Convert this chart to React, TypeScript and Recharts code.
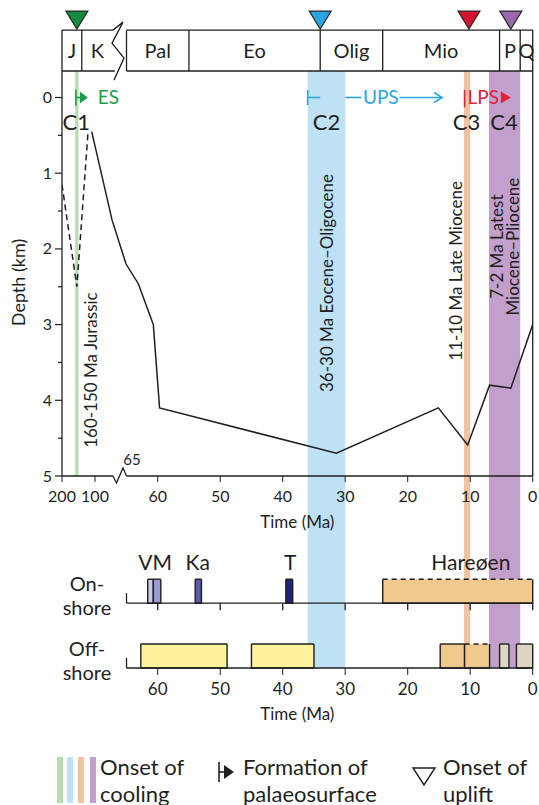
import React from 'react';
import {
  ComposedChart,
  Line,
  XAxis,
  YAxis,
  ReferenceArea,
  ReferenceLine,
  ReferenceDot,
} from 'recharts';

// burial history (age in Ma, depth in km)
const burialAge = [110, 81, 65.5, 63.1, 60.7, 59.7, 31.4, 15.1, 10.4, 6.9, 3.5, 0];
const burialDepth = [0.45, 1.62, 2.2, 2.46, 3.0, 4.1, 4.7, 4.1, 4.59, 3.8, 3.84, 3.0];
const altBurialAge = [200, 155, 121];
const altBurialDepth = [1.15, 2.5, 0.45];

// geological time scale
const periodName = ['J', 'K', 'Pal', 'Eo', 'Olig', 'Mio', 'P', 'Q'];
const periodStart = [200, 140, 65, 55, 34, 24, 5.3, 2];
const periodEnd = [140, 65, 55, 34, 24, 5.3, 2, 0];

// cooling events
const coolingName = ['C1', 'C2', 'C3', 'C4'];
const coolingFrom = [160, 36, 11, 7];
const coolingTo = [150, 30, 10, 2];
const coolingColor = ['#b9dbb1', '#bee1f6', '#f0c3a3', '#c3a0cc'];
const coolingText = [
  ['160-150 Ma Jurassic'],
  ['36-30 Ma Eocene–Oligocene'],
  ['11-10 Ma Late Miocene'],
  ['7-2 Ma Latest', 'Miocene–Pliocene'],
];

// onset of uplift
const upliftAge = [155, 34, 10.2, 3.5];
const upliftColor = ['#138a3c', '#29a5df', '#d3132f', '#9c68ac'];

// on-shore / off-shore records
const onshoreFrom = [61.6, 60.7, 54, 39.5, 24];
const onshoreTo = [60.7, 59.5, 53, 38.4, 0];
const onshoreColor = ['#cac9e9', '#9c99d3', '#5b59b4', '#1d2574', '#f0c98e'];
const onshoreDashed = [false, false, false, false, true];
const onshoreName = ['VM', 'Ka', 'T', 'Hareøen'];
const onshoreNameAge = [60.4, 53.6, 38.8, 9.9];

const offshoreFrom = [62.7, 45, 14.8, 10.9, 5.3, 2.6];
const offshoreTo = [48.9, 35, 10.9, 6.9, 3.8, 0];
const offshoreColor = ['#fdf39c', '#fdf39c', '#efc88d', '#efc88d', '#ddd6c2', '#ddd6c2'];
const offshoreDashed = [false, false, false, true, false, false];

const mainTicks = [200, 100, 60, 50, 40, 30, 20, 10, 0];
const lowerTicks = [60, 50, 40, 30, 20, 10, 0];
const depthTicks = [0, 0.5, 1, 1.5, 2, 2.5, 3, 3.5, 4, 4.5, 5];
const rowLabel = [['On-', 'shore'], ['Off-', 'shore']];

// broken time axis: 200-100 Ma squeezed, 100-65 Ma gap, 65-0 Ma linear
const toX = (t: number) => {
  if (t >= 100) return 95 - (t - 100) * 0.33;
  if (t >= 65) return 95 + (100 - t) * 0.9;
  return 532.7 - 6.25 * t;
};

const BOX_TOP = -0.89;
const PLOT_TOP = -0.35;
const ON_BASE = 2.7;
const OFF_BASE = 0;
const BAR_H = 1.0;
const rowMid = [ON_BASE + BAR_H / 2, OFF_BASE + BAR_H / 2];

const INK = '#1f1f1f';
const BLUE = '#2aa6de';
const RED = '#df213e';
const GREEN = '#1f9a4b';

const burialPts = burialAge.map((t, i) => ({ u: toX(t), d: burialDepth[i] }));
const altPts = altBurialAge.map((t, i) => ({ u: toX(t), d: altBurialDepth[i] }));
const onBaseline = [{ u: toX(65), y: ON_BASE }, { u: toX(0), y: ON_BASE }];
const offBaseline = [{ u: toX(65), y: OFF_BASE }, { u: toX(0), y: OFF_BASE }];

const fmtTick = (list: number[]) => (v: number) => {
  const i = list.findIndex((t) => Math.abs(toX(t) - v) < 0.01);
  return i >= 0 ? String(list[i]) : '';
};

type NoteOpts = { size?: number; color?: string; rotate?: boolean; anchor?: string; lh?: number };

function note(key: string, x: number, y: number, text: string | string[], o: NoteOpts = {}) {
  const lines = Array.isArray(text) ? text : [text];
  const size = o.size ?? 17;
  const lh = o.lh ?? 0.95;
  return (
    <ReferenceDot
      key={key}
      x={x}
      y={y}
      r={0}
      ifOverflow="visible"
      shape={(p: any) => {
        const cx = p.cx;
        const cy = p.cy;
        return (
          <text
            x={cx}
            y={cy}
            fontSize={size}
            fill={o.color ?? INK}
            textAnchor={o.anchor ?? 'middle'}
            transform={o.rotate ? `rotate(-90 ${cx} ${cy})` : undefined}
          >
            {lines.map((l, i) => (
              <tspan
                key={i}
                x={cx}
                dy={i === 0 ? `${(-(lines.length - 1) / 2) * lh + 0.35}em` : `${lh}em`}
              >
                {l}
              </tspan>
            ))}
          </text>
        );
      }}
    />
  );
}

function seg(key: string, x1: number, y1: number, x2: number, y2: number, stroke = INK, w = 1.3) {
  return (
    <ReferenceLine
      key={key}
      segment={[{ x: x1, y: y1 }, { x: x2, y: y2 }]}
      stroke={stroke}
      strokeWidth={w}
      ifOverflow="visible"
    />
  );
}

const boxShape = (fill: string, dashedTop: boolean) => (p: any) => {
  const { x, y, width, height } = p;
  return (
    <g>
      <rect x={x} y={y} width={width} height={height} fill={fill} />
      <path
        d={`M${x},${y} L${x},${y + height} L${x + width},${y + height} L${x + width},${y}`}
        fill="none"
        stroke={INK}
        strokeWidth={1.4}
      />
      <line
        x1={x}
        y1={y}
        x2={x + width}
        y2={y}
        stroke={INK}
        strokeWidth={1.4}
        strokeDasharray={dashedTop ? '5 4' : undefined}
      />
    </g>
  );
};

const DepthTick = (props: any) => {
  const { x, y, payload } = props;
  const major = Number.isInteger(payload.value);
  return (
    <g>
      <line x1={x - (major ? 7 : 4)} x2={x} y1={y} y2={y} stroke={INK} strokeWidth={1.2} />
      {major && (
        <text x={x - 10} y={y} dy="0.35em" textAnchor="end" fontSize={16} fill={INK}>
          {payload.value}
        </text>
      )}
    </g>
  );
};

const RowTick = (props: any) => {
  const { x, y, index } = props;
  const lines = rowLabel[index] || [];
  return (
    <text x={x + 25} y={y} textAnchor="middle" fontSize={20} fill={INK}>
      <tspan x={x + 25} dy="0">{lines[0]}</tspan>
      <tspan x={x + 25} dy="1.2em">{lines[1]}</tspan>
    </text>
  );
};

function MainChart() {
  return (
    <ComposedChart width={539} height={540} margin={{ top: 71, right: 6.3, bottom: 34, left: 2 }}>
      <XAxis
        type="number"
        dataKey="u"
        domain={[toX(200), toX(0)]}
        ticks={mainTicks.map(toX)}
        interval={0}
        tickFormatter={fmtTick(mainTicks)}
        axisLine={false}
        tickLine={{ stroke: INK }}
        tickSize={6}
        tickMargin={9}
        tick={{ fill: INK, fontSize: 16 }}
        height={30}
        allowDataOverflow
        label={{ value: 'Time (Ma)', position: 'bottom', offset: 10, fill: INK, fontSize: 17 }}
      />
      <YAxis
        type="number"
        domain={[PLOT_TOP, 5]}
        reversed
        ticks={depthTicks}
        interval={0}
        tick={(p: any) => <DepthTick {...p} />}
        tickLine={false}
        tickSize={0}
        tickMargin={0}
        axisLine={{ stroke: INK, strokeWidth: 1.3 }}
        width={60}
        allowDataOverflow
        label={{
          content: (p: any) => {
            const vb = p.viewBox || { x: 2, y: 71, width: 60, height: 405 };
            const cx = vb.x + 17;
            const cy = vb.y + vb.height / 2 + 9;
            return (
              <text x={cx} y={cy} dy="0.35em" textAnchor="middle" fontSize={18} fill={INK}
                transform={`rotate(-90 ${cx} ${cy})`}>
                Depth (km)
              </text>
            );
          },
        }}
      />

      {coolingFrom.map((a, i) => (
        <ReferenceArea
          key={`band-${i}`}
          x1={toX(a)}
          x2={toX(coolingTo[i])}
          y1={PLOT_TOP}
          y2={5}
          fill={coolingColor[i]}
          fillOpacity={1}
          stroke="none"
          ifOverflow="visible"
        />
      ))}

      {/* time scale box */}
      {seg('bt1', toX(200), BOX_TOP, toX(80), BOX_TOP)}
      {seg('bt2', toX(65), BOX_TOP, toX(0), BOX_TOP)}
      {seg('bb1', toX(200), PLOT_TOP, toX(78), PLOT_TOP)}
      {seg('bb2', toX(65), PLOT_TOP, toX(0), PLOT_TOP)}
      {[200, 140, 65, 55, 34, 24, 5.3, 2, 0].map((b) => seg(`bd-${b}`, toX(b), BOX_TOP, toX(b), PLOT_TOP))}
      <ReferenceDot
        x={toX(80)}
        y={BOX_TOP}
        r={0}
        ifOverflow="visible"
        shape={(p: any) => (
          <path
            d={`M${p.cx},${p.cy} L${p.cx + 10},${p.cy - 8} L${p.cx - 1},${p.cy + 13} L${p.cx + 11},${p.cy + 28} L${p.cx + 1},${p.cy + 50}`}
            fill="none"
            stroke={INK}
            strokeWidth={1.3}
          />
        )}
      />
      {periodName.map((n, i) =>
        note(`pn-${i}`, (toX(periodStart[i]) + toX(i === 1 ? 80 : periodEnd[i])) / 2, (BOX_TOP + PLOT_TOP) / 2, n, { size: 20 })
      )}

      {upliftAge.map((a, i) => (
        <ReferenceDot
          key={`up-${i}`}
          x={toX(a)}
          y={BOX_TOP}
          r={0}
          ifOverflow="visible"
          shape={(p: any) => (
            <polygon
              points={`${p.cx - 11},${p.cy - 19} ${p.cx + 11},${p.cy - 19} ${p.cx},${p.cy - 1}`}
              fill={upliftColor[i]}
              stroke="#2a2a2a"
              strokeWidth={1.2}
            />
          )}
        />
      ))}

      <Line data={altPts} dataKey="d" stroke={INK} strokeWidth={1.5} strokeDasharray="6 4" dot={false} isAnimationActive={false} />
      <Line data={burialPts} dataKey="d" stroke={INK} strokeWidth={1.5} dot={false} isAnimationActive={false} />

      {/* x axis line with break */}
      {seg('ax1', toX(200), 5, toX(80), 5)}
      {seg('ax2', toX(65), 5, toX(0), 5)}
      <ReferenceDot
        x={toX(80)}
        y={5}
        r={0}
        ifOverflow="visible"
        shape={(p: any) => (
          <path
            d={`M${p.cx},${p.cy} L${p.cx + 3.5},${p.cy + 7} L${p.cx + 10},${p.cy - 8} L${p.cx + 13.5},${p.cy}`}
            fill="none"
            stroke={INK}
            strokeWidth={1.3}
          />
        )}
      />
      {note('65', toX(64.1), 4.78, '65', { size: 15 })}
      <ReferenceLine x={toX(0)} stroke={INK} strokeWidth={1.3} />

      {/* palaeosurfaces */}
      <ReferenceDot
        x={toX(158)}
        y={0}
        r={0}
        ifOverflow="visible"
        shape={(p: any) => (
          <g>
            <line x1={p.cx} y1={p.cy - 8} x2={p.cx} y2={p.cy + 8} stroke={GREEN} strokeWidth={1.6} />
            <line x1={p.cx} y1={p.cy} x2={p.cx + 6} y2={p.cy} stroke={GREEN} strokeWidth={1.6} />
            <polygon points={`${p.cx + 4},${p.cy - 6} ${p.cx + 12},${p.cy} ${p.cx + 4},${p.cy + 6}`} fill={GREEN} />
            <text x={p.cx + 22} y={p.cy} dy="0.35em" fontSize={19} fill={GREEN}>ES</text>
          </g>
        )}
      />
      {seg('ups1', toX(36), -0.1, toX(36), 0.1, BLUE, 1.6)}
      {seg('ups2', toX(36), 0, toX(34), 0, BLUE, 1.6)}
      {seg('ups3', toX(30), 0, toX(27.4), 0, BLUE, 1.6)}
      {seg('ups4', toX(21.3), 0, toX(14.6), 0, BLUE, 1.6)}
      {note('upsT', toX(24.3), 0, 'UPS', { size: 19, color: BLUE })}
      <ReferenceDot
        x={toX(14.5)}
        y={0}
        r={0}
        ifOverflow="visible"
        shape={(p: any) => (
          <polyline points={`${p.cx - 8},${p.cy - 5} ${p.cx},${p.cy} ${p.cx - 8},${p.cy + 5}`} fill="none" stroke={BLUE} strokeWidth={1.6} />
        )}
      />
      {seg('lps1', toX(10.9), -0.1, toX(10.9), 0.13, RED, 1.6)}
      {note('lpsT', toX(7.9), 0, 'LPS', { size: 19, color: RED })}
      <ReferenceDot
        x={toX(3.5)}
        y={0}
        r={0}
        ifOverflow="visible"
        shape={(p: any) => (
          <polygon points={`${p.cx - 10},${p.cy - 6} ${p.cx},${p.cy} ${p.cx - 10},${p.cy + 6}`} fill={RED} />
        )}
      />

      {/* cooling labels */}
      {note('c1', toX(157), 0.33, coolingName[0], { size: 22 })}
      {note('c2', toX(33), 0.33, coolingName[1], { size: 22 })}
      {note('c3', toX(10.6), 0.33, coolingName[2], { size: 22 })}
      {note('c4', toX(4.6), 0.33, coolingName[3], { size: 22 })}
      {note('v1', toX(112), 3.6, coolingText[0], { size: 17, rotate: true })}
      {note('v2', toX(32.9), 2.45, coolingText[1], { size: 17, rotate: true })}
      {note('v3', toX(12.2), 2.29, coolingText[2], { size: 17, rotate: true })}
      {note('v4', toX(4.4), 1.97, coolingText[3], { size: 17, rotate: true })}
    </ComposedChart>
  );
}

function LowerChart() {
  return (
    <ComposedChart width={539} height={329} margin={{ top: 0, right: 6.3, bottom: 107, left: 2 }}>
      <XAxis
        type="number"
        dataKey="u"
        domain={[toX(200), toX(0)]}
        ticks={lowerTicks.map(toX)}
        interval={0}
        tickFormatter={fmtTick(lowerTicks)}
        axisLine={false}
        tickLine={{ stroke: INK }}
        tickSize={7}
        tickMargin={8}
        tick={{ fill: INK, fontSize: 17 }}
        height={30}
        allowDataOverflow
        label={{ value: 'Time (Ma)', position: 'bottom', offset: 10, fill: INK, fontSize: 17 }}
      />
      <YAxis
        type="number"
        domain={[0, 8]}
        ticks={rowMid}
        interval={0}
        tick={(p: any) => <RowTick {...p} />}
        tickLine={false}
        axisLine={false}
        tickSize={0}
        tickMargin={0}
        width={60}
      />
      {coolingFrom.slice(1).map((a, i) => (
        <ReferenceArea
          key={`lband-${i}`}
          x1={toX(a)}
          x2={toX(coolingTo[i + 1])}
          y1={0}
          y2={8}
          fill={coolingColor[i + 1]}
          fillOpacity={1}
          stroke="none"
        />
      ))}
      {onshoreFrom.map((a, i) => (
        <ReferenceArea
          key={`on-${i}`}
          x1={toX(a)}
          x2={toX(onshoreTo[i])}
          y1={ON_BASE}
          y2={ON_BASE + BAR_H}
          shape={boxShape(onshoreColor[i], onshoreDashed[i])}
        />
      ))}
      {offshoreFrom.map((a, i) => (
        <ReferenceArea
          key={`off-${i}`}
          x1={toX(a)}
          x2={toX(offshoreTo[i])}
          y1={OFF_BASE}
          y2={OFF_BASE + BAR_H}
          shape={boxShape(offshoreColor[i], offshoreDashed[i])}
        />
      ))}
      <Line data={onBaseline} dataKey="y" stroke={INK} strokeWidth={1.3} dot={false} isAnimationActive={false} />
      <Line data={offBaseline} dataKey="y" stroke={INK} strokeWidth={1.3} dot={false} isAnimationActive={false} />
      {lowerTicks.map((t) => seg(`ot-${t}`, toX(t), ON_BASE, toX(t), ON_BASE - 0.29))}
      {seg('oe1', toX(65), ON_BASE, toX(65), ON_BASE + 0.42)}
      {seg('oe2', toX(65), OFF_BASE, toX(65), OFF_BASE + 0.42)}
      {onshoreName.map((n, i) => note(`onn-${i}`, toX(onshoreNameAge[i]), 4.4, n, { size: 21 }))}
    </ComposedChart>
  );
}

function CoolingLegend() {
  const barX = [57, 67, 78, 90];
  return (
    <svg width={539} height={65} style={{ position: 'absolute', left: 0, top: 740 }}>
      {barX.map((x, i) => (
        <rect key={i} x={x} y={17} width={6} height={46} fill={coolingColor[i]} />
      ))}
      <text x={100} y={35} fontSize={22} fill={INK}>Onset of</text>
      <text x={100} y={61.5} fontSize={22} fill={INK}>cooling</text>
      <line x1={219} y1={22} x2={219} y2={42} stroke={INK} strokeWidth={1.6} />
      <line x1={219} y1={32} x2={226} y2={32} stroke={INK} strokeWidth={1.6} />
      <polygon points="224,25 234,32 224,39" fill={INK} />
      <text x={243} y={35} fontSize={22} fill={INK}>Formation of</text>
      <text x={243} y={61.5} fontSize={22} fill={INK}>palaeosurface</text>
      <polygon points="413,28 435,28 424,45" fill="none" stroke={INK} strokeWidth={1.4} />
      <text x={443} y={35} fontSize={22} fill={INK}>Onset of</text>
      <text x={443} y={61.5} fontSize={22} fill={INK}>uplift</text>
    </svg>
  );
}

export default function App() {
  return (
    <div
      style={{
        position: 'absolute',
        left: 0,
        top: 0,
        width: 539,
        height: 805,
        overflow: 'hidden',
        background: '#fff',
        fontFamily: 'Lato, "Open Sans", sans-serif',
      }}
    >
      <div style={{ position: 'absolute', left: 0, top: 476 }}>
        <LowerChart />
      </div>
      <div style={{ position: 'absolute', left: 0, top: 0 }}>
        <MainChart />
      </div>
      <CoolingLegend />
    </div>
  );
}
